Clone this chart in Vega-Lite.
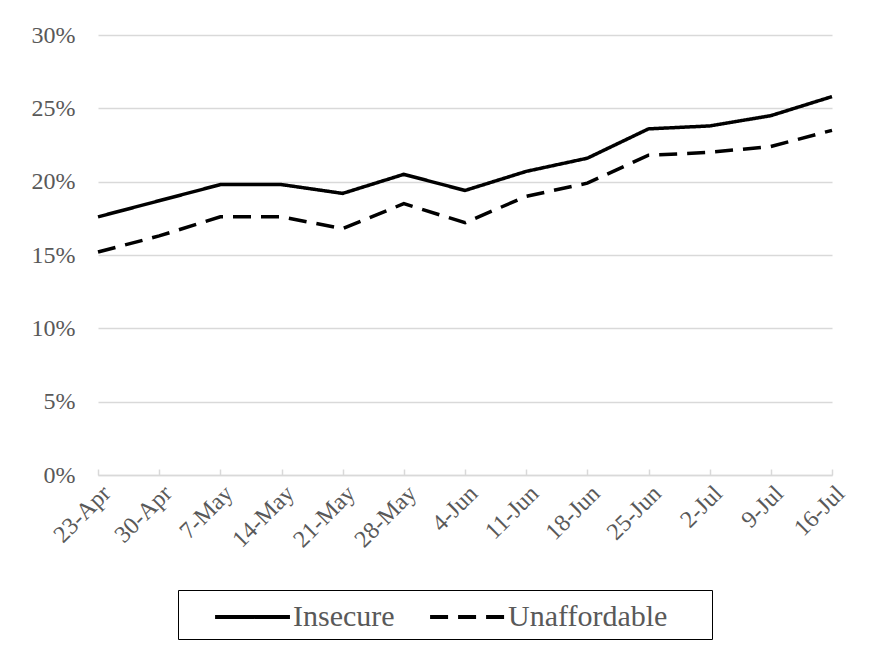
{
  "$schema": "https://vega.github.io/schema/vega-lite/v6.json",
  "width": 734,
  "height": 440,
  "autosize": "none",
  "padding": {"left": 98, "top": 35, "right": 41, "bottom": 183},
  "background": "white",
  "config": {
    "view": {"stroke": null},
    "font": "Liberation Serif"
  },
  "data": {
    "values": [
      {"date": "23-Apr", "series": "Insecure", "value": 0.176},
      {"date": "30-Apr", "series": "Insecure", "value": 0.187},
      {"date": "7-May", "series": "Insecure", "value": 0.198},
      {"date": "14-May", "series": "Insecure", "value": 0.198},
      {"date": "21-May", "series": "Insecure", "value": 0.192},
      {"date": "28-May", "series": "Insecure", "value": 0.205},
      {"date": "4-Jun", "series": "Insecure", "value": 0.194},
      {"date": "11-Jun", "series": "Insecure", "value": 0.207},
      {"date": "18-Jun", "series": "Insecure", "value": 0.216},
      {"date": "25-Jun", "series": "Insecure", "value": 0.236},
      {"date": "2-Jul", "series": "Insecure", "value": 0.238},
      {"date": "9-Jul", "series": "Insecure", "value": 0.245},
      {"date": "16-Jul", "series": "Insecure", "value": 0.258},
      {"date": "23-Apr", "series": "Unaffordable", "value": 0.152},
      {"date": "30-Apr", "series": "Unaffordable", "value": 0.163},
      {"date": "7-May", "series": "Unaffordable", "value": 0.176},
      {"date": "14-May", "series": "Unaffordable", "value": 0.176},
      {"date": "21-May", "series": "Unaffordable", "value": 0.168},
      {"date": "28-May", "series": "Unaffordable", "value": 0.185},
      {"date": "4-Jun", "series": "Unaffordable", "value": 0.172},
      {"date": "11-Jun", "series": "Unaffordable", "value": 0.190},
      {"date": "18-Jun", "series": "Unaffordable", "value": 0.199},
      {"date": "25-Jun", "series": "Unaffordable", "value": 0.218},
      {"date": "2-Jul", "series": "Unaffordable", "value": 0.220},
      {"date": "9-Jul", "series": "Unaffordable", "value": 0.224},
      {"date": "16-Jul", "series": "Unaffordable", "value": 0.235}
    ]
  },
  "mark": {"type": "line", "strokeWidth": 3.5, "color": "black"},
  "encoding": {
    "x": {
      "field": "date",
      "type": "ordinal",
      "sort": null,
      "scale": {"type": "point", "padding": 0},
      "axis": {
        "title": null,
        "labelAngle": -45,
        "labelFont": "Liberation Serif",
        "labelFontSize": 24,
        "labelColor": "#595959",
        "labelPadding": 12,
        "domainColor": "#d9d9d9",
        "domainWidth": 1.5,
        "tickColor": "#d9d9d9",
        "tickWidth": 1.5,
        "tickSize": -6,
        "grid": false
      }
    },
    "y": {
      "field": "value",
      "type": "quantitative",
      "scale": {"domain": [0, 0.3]},
      "axis": {
        "title": null,
        "format": ".0%",
        "values": [0, 0.05, 0.1, 0.15, 0.2, 0.25, 0.3],
        "labelFont": "Liberation Serif",
        "labelFontSize": 24,
        "labelColor": "#595959",
        "labelPadding": 23,
        "domain": false,
        "ticks": false,
        "gridColor": "#d9d9d9",
        "gridWidth": 1.5
      }
    },
    "strokeDash": {
      "field": "series",
      "type": "nominal",
      "scale": {"domain": ["Insecure", "Unaffordable"], "range": [[1, 0], [18, 10]]},
      "legend": {
        "title": null,
        "orient": "none",
        "legendX": 80,
        "legendY": 555,
        "direction": "horizontal",
        "strokeColor": "black",
        "padding": 7,
        "symbolType": "M0.56,0H4.72",
        "symbolSize": 1296,
        "symbolStrokeWidth": 4,
        "symbolStrokeColor": "black",
        "labelFont": "Liberation Serif",
        "labelFontSize": 30,
        "labelColor": "#595959",
        "labelOffset": 68,
        "columnPadding": 5,
        "labelLimit": 400,
        "labelExpr": "datum.label == 'Unaffordable' ? datum.label + '\u00a0\u00a0\u00a0\u00a0\u00a0\u200b' : datum.label"
      }
    }
  }
}
